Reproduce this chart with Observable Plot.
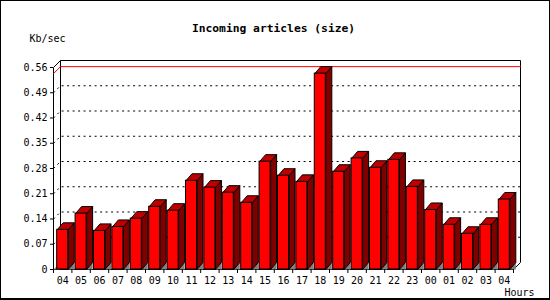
<!DOCTYPE html>
<html>
<head>
<meta charset="utf-8">
<script src="https://cdn.jsdelivr.net/npm/d3@7"></script>
<script src="https://cdn.jsdelivr.net/npm/@observablehq/plot@0.6"></script>
<style>
  html, body { margin: 0; padding: 0; background: #fff; }
  #chart svg { display: block; box-shadow: inset 0 0 0 1px #000, inset -1px -2px 0 #000; }
</style>
</head>
<body>
<div id="chart"></div>
<script>
const hours = ["04","05","06","07","08","09","10","11","12","13","14","15","16","17","18","19","20","21","22","23","00","01","02","03","04"];
const values = [0.110,0.155,0.107,0.118,0.141,0.174,0.163,0.246,0.227,0.213,0.185,0.299,0.260,0.243,0.543,0.271,0.308,0.282,0.304,0.229,0.165,0.124,0.099,0.124,0.194];
const yTicks = [0,0.07,0.14,0.21,0.28,0.35,0.42,0.49,0.56];
const yTickLabels = ["0","0.07","0.14","0.21","0.28","0.35","0.42","0.49","0.56"];
const title = "Incoming articles (size)";
const yLabel = "Kb/sec";
const xLabel = "Hours";

const W = 550, H = 300;
const mL = 53, mR = 37, mT = 67, mB = 31;
const n = hours.length;
const yMax = 0.56;
const xUnit = (W - mL - mR) / n;           // px per category
const yUnit = (H - mT - mB) / yMax;        // px per value unit
const px2x = p => p / xUnit;
const px2y = p => p / yUnit;
const bx = px2x(7), by = px2y(7);          // wall depth
const dxB = px2x(6), dyB = px2y(7);        // bar depth
const f1 = 0.2, f2 = 0.8;                  // bar front within category

const rows = hours.map((h, i) => ({i, hour: h, value: values[i]}));
const maxV = d3.max(values);

// polygons
const sides = [], tops = [], shadows = [];
rows.forEach(r => {
  const x1 = r.i + f1, x2 = r.i + f2, v = r.value;
  [[x2,0],[x2,v],[x2+dxB,v+dyB],[x2+dxB,dyB],[x2,0]].forEach(([x,y]) => sides.push({z:r.i,x,y}));
  [[x1,v],[x2,v],[x2+dxB,v+dyB],[x1+dxB,v+dyB],[x1,v]].forEach(([x,y]) => tops.push({z:r.i,x,y}));
  [[x2,0],[x2+dxB,dyB],[x2+dxB,0]].forEach(([x,y]) => shadows.push({z:r.i,x,y}));
});
// left wall floor shadow
[[0,0],[bx,by],[bx,0]].forEach(([x,y]) => shadows.push({z:-1,x,y}));

const grid = [];
yTicks.filter(t => t > 0 && t < yMax).forEach(t => {
  [[0,t],[bx,t+by],[n+bx,t+by]].forEach(([x,y]) => grid.push({z:t,x,y}));
});
const frameLines = [];
const addLine = (id, pts) => pts.forEach(([x,y]) => frameLines.push({z:id,x,y}));
addLine("front", [[0,0],[0,yMax],[bx,yMax+by],[n+bx,yMax+by],[n+bx,by],[n,0],[0,0]]);
addLine("backleft", [[bx,by],[bx,yMax+by]]);
const maxLine = [[0,maxV],[bx,maxV+by],[n+bx,maxV+by]].map(([x,y]) => ({x,y}));

const lineOpts = {x:"x", y:"y", z:"z", strokeWidth:1, strokeLinejoin:"miter", strokeLinecap:"butt", curve:"linear"};

const chart = Plot.plot({
  width: W, height: H,
  marginLeft: mL, marginRight: mR, marginTop: mT, marginBottom: mB,
  x: {type:"linear", domain:[0, n], axis:null},
  y: {type:"linear", domain:[0, yMax], axis:null},
  style: {fontFamily:"DejaVu Sans Mono", fontSize:"10px", background:"#fff", color:"#000"},
  marks: [
    Plot.line(grid, {...lineOpts, stroke:"#000", strokeDasharray:"2,3.5"}),
    Plot.line(frameLines, {...lineOpts, stroke:"#000"}),
    Plot.line(maxLine, {x:"x", y:"y", stroke:"#ff0000", strokeWidth:1, curve:"linear"}),
    Plot.line(shadows, {...lineOpts, fill:"#808080", stroke:"none"}),
    Plot.line(sides, {...lineOpts, fill:"#800000", stroke:"#000"}),
    Plot.line(tops, {...lineOpts, fill:"#c00000", stroke:"#000"}),
    Plot.rectY(rows, {x1: d => d.i + f1, x2: d => d.i + f2, y1: 0, y2: "value", fill:"#ff0000", stroke:"#000", strokeWidth:1}),
    // y axis ticks and labels
    Plot.ruleY(yTicks, {y: d => d, x1: px2x(-3), x2: 0, stroke:"#000"}),
    Plot.text(yTicks, {x: 0, y: d => d, text: (d, i) => yTickLabels[i], textAnchor:"end", dx:-6, fontSize:10}),
    // x axis ticks and labels
    Plot.ruleX(d3.range(n + 1), {x: d => d, y1: 0, y2: px2y(-4), stroke:"#000"}),
    Plot.text(rows, {x: d => d.i + 0.5, y: 0, text:"hour", dy: 11, fontSize:10}),
    Plot.text([xLabel], {frameAnchor:"bottom-right", lineAnchor:"middle", textAnchor:"end", dx: 21, dy: 23, fontSize:10}),
    Plot.text([yLabel], {frameAnchor:"top-left", lineAnchor:"middle", textAnchor:"start", dx: -24, dy: -29, fontSize:10}),
    Plot.text([title], {frameAnchor:"top", lineAnchor:"middle", dx: -10, dy: -39, fontSize:11.3, fontWeight:"bold"})
  ]
});
document.getElementById("chart").append(chart);
</script>
</body>
</html>
